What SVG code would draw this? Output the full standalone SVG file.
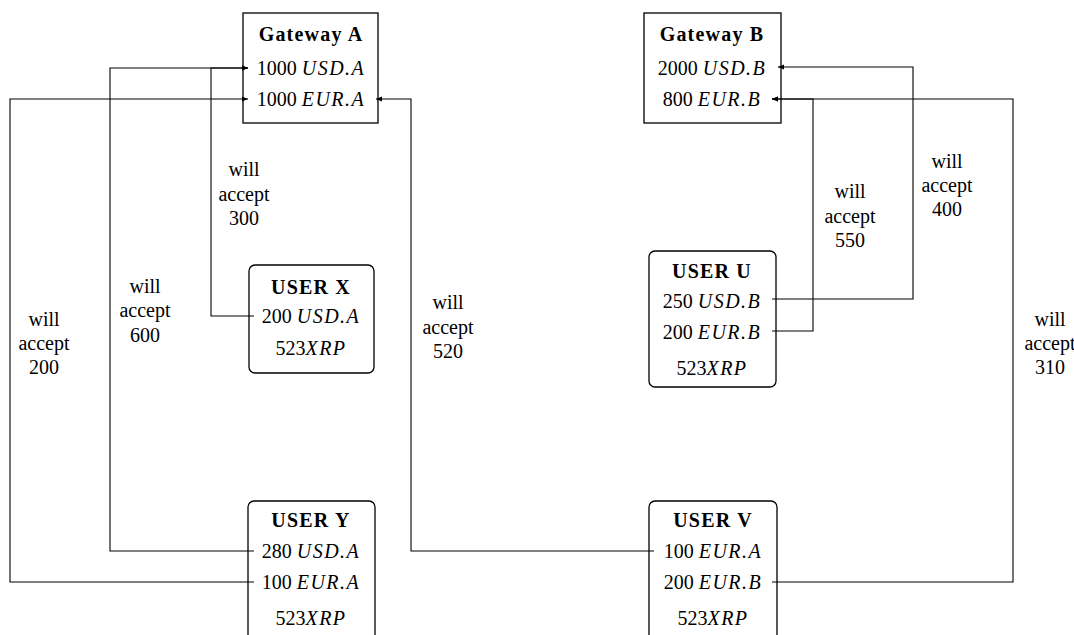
<svg xmlns="http://www.w3.org/2000/svg" width="1074" height="635" viewBox="0 0 1074 635">
<style>
text{font-family:"Liberation Serif","DejaVu Serif",serif;font-size:20px;fill:#000;text-anchor:middle}
.b{font-weight:bold;letter-spacing:1.2px}
.i{font-style:italic;letter-spacing:1.5px}
.box{fill:#fff;stroke:#000;stroke-width:1.3}
.c{fill:none;stroke:#000;stroke-width:1.1}
</style>
<defs>
<marker id="ah" viewBox="0 0 8 8" refX="7" refY="4" markerWidth="7" markerHeight="7" orient="auto" markerUnits="userSpaceOnUse"><path d="M0,1 L7,4 L0,7 Z" fill="#000"/></marker>
</defs>
<g id="gatewayA">
<rect class="box" x="243" y="13" width="135" height="110"/>
<text class="b" x="311" y="41">Gateway A</text>
<text x="311" y="75">1000 <tspan class="i">USD.A</tspan></text>
<text x="311" y="106">1000 <tspan class="i">EUR.A</tspan></text>
</g>
<g id="gatewayB">
<rect class="box" x="644" y="13" width="137" height="110"/>
<text class="b" x="712" y="41">Gateway B</text>
<text x="712" y="75">2000 <tspan class="i">USD.B</tspan></text>
<text x="712" y="106">800 <tspan class="i">EUR.B</tspan></text>
</g>
<g id="userX">
<rect class="box" x="249" y="265" width="125" height="108" rx="6"/>
<text class="b" x="311" y="294">USER X</text>
<text x="311" y="323">200 <tspan class="i">USD.A</tspan></text>
<text x="311" y="355">523<tspan class="i">XRP</tspan></text>
</g>
<g id="userU">
<rect class="box" x="649" y="251" width="127" height="136" rx="6"/>
<text class="b" x="712" y="278">USER U</text>
<text x="712" y="308">250 <tspan class="i">USD.B</tspan></text>
<text x="712" y="339">200 <tspan class="i">EUR.B</tspan></text>
<text x="712" y="375">523<tspan class="i">XRP</tspan></text>
</g>
<g id="userY">
<rect class="box" x="248" y="501" width="127" height="145" rx="6"/>
<text class="b" x="311" y="527">USER Y</text>
<text x="311" y="558">280 <tspan class="i">USD.A</tspan></text>
<text x="311" y="589">100 <tspan class="i">EUR.A</tspan></text>
<text x="311" y="625">523<tspan class="i">XRP</tspan></text>
</g>
<g id="userV">
<rect class="box" x="649" y="501" width="128" height="145" rx="6"/>
<text class="b" x="713" y="527">USER V</text>
<text x="713" y="558">100 <tspan class="i">EUR.A</tspan></text>
<text x="713" y="589">200 <tspan class="i">EUR.B</tspan></text>
<text x="713" y="625">523<tspan class="i">XRP</tspan></text>
</g>
<g id="connectors">
<path class="c" d="M254,316 H211 V68 H248" marker-end="url(#ah)"/>
<path class="c" d="M254,551 H110 V68 H248" marker-end="url(#ah)"/>
<path class="c" d="M254,582 H10 V99 H248" marker-end="url(#ah)"/>
<path class="c" d="M654,551 H411 V99 H376" marker-end="url(#ah)"/>
<path class="c" d="M772,299 H913 V67 H778" marker-end="url(#ah)"/>
<path class="c" d="M772,331 H813 V99 H772" marker-end="url(#ah)"/>
<path class="c" d="M772,582 H1013 V99 H772" marker-end="url(#ah)"/>
<g id="labels">
<text x="244" y="176">will</text><text x="244" y="201">accept</text><text x="244" y="225">300</text>
<text x="145" y="293">will</text><text x="145" y="317">accept</text><text x="145" y="342">600</text>
<text x="44" y="326">will</text><text x="44" y="350">accept</text><text x="44" y="374">200</text>
<text x="448" y="309">will</text><text x="448" y="334">accept</text><text x="448" y="358">520</text>
<text x="850" y="198">will</text><text x="850" y="223">accept</text><text x="850" y="247">550</text>
<text x="947" y="168">will</text><text x="947" y="192">accept</text><text x="947" y="216">400</text>
<text x="1050" y="326">will</text><text x="1050" y="350">accept</text><text x="1050" y="374">310</text>
</g>
</g>
</svg>
